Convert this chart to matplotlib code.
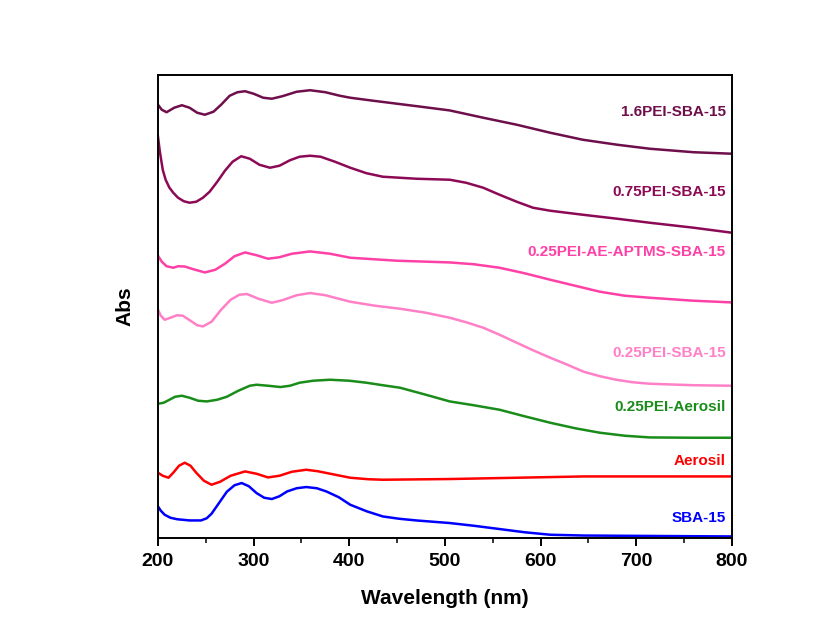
import matplotlib
matplotlib.use('Agg')
import matplotlib.pyplot as plt
from matplotlib.ticker import MultipleLocator

plt.rcParams['font.family'] = ['Liberation Sans', 'DejaVu Sans']
plt.rcParams['font.weight'] = 'bold'

# UV-vis spectra (offset, arbitrary units)
wl_16 = [200, 204, 209, 217, 225, 233, 241, 249, 258, 266, 275, 283, 291, 300, 310, 319, 330, 345,
         359, 375, 390, 401, 425, 450, 475, 505, 540, 575, 610, 644, 680, 714, 760, 800]
abs_16 = [4.33, 4.28, 4.255, 4.30, 4.325, 4.30, 4.25, 4.23, 4.26, 4.33, 4.42, 4.455, 4.465, 4.44,
          4.40, 4.39, 4.415, 4.46, 4.475, 4.455, 4.42, 4.40, 4.37, 4.34, 4.31, 4.273, 4.20, 4.13,
          4.05, 3.98, 3.93, 3.89, 3.855, 3.84]

wl_075 = [200, 202, 205, 208, 212, 216, 221, 227, 233, 240, 247, 254, 262, 270, 278, 287, 296, 306,
          317, 327, 338, 348, 359, 370, 385, 401, 418, 435, 470, 505, 522, 540, 557, 575, 592, 610,
          644, 680, 714, 760, 800]
abs_075 = [4.01, 3.86, 3.68, 3.58, 3.50, 3.45, 3.40, 3.365, 3.35, 3.36, 3.40, 3.46, 3.56, 3.67,
           3.76, 3.815, 3.79, 3.73, 3.70, 3.72, 3.775, 3.81, 3.82, 3.81, 3.76, 3.70, 3.645, 3.61,
           3.59, 3.58, 3.55, 3.50, 3.43, 3.36, 3.30, 3.27, 3.23, 3.19, 3.15, 3.10, 3.05]

wl_ae = [200, 204, 209, 216, 221, 228, 237, 249, 260, 270, 280, 291, 303, 315, 327, 340, 359, 380,
         401, 450, 505, 530, 557, 583, 610, 636, 662, 688, 714, 760, 800]
abs_ae = [2.82, 2.76, 2.715, 2.70, 2.715, 2.712, 2.685, 2.653, 2.68, 2.74, 2.815, 2.853, 2.825,
          2.79, 2.805, 2.84, 2.863, 2.84, 2.80, 2.77, 2.753, 2.735, 2.70, 2.645, 2.58, 2.52, 2.46,
          2.42, 2.40, 2.37, 2.353]

wl_025 = [200, 203, 207, 213, 220, 226, 234, 241, 247, 256, 266, 276, 285, 293, 305, 319, 330, 345,
          359, 375, 401, 427, 453, 480, 505, 522, 540, 557, 575, 592, 610, 628, 645, 662, 679, 696,
          714, 760, 800]
abs_025 = [2.28, 2.22, 2.18, 2.20, 2.225, 2.22, 2.17, 2.125, 2.113, 2.16, 2.28, 2.38, 2.43, 2.437,
           2.39, 2.35, 2.375, 2.425, 2.447, 2.425, 2.36, 2.32, 2.29, 2.25, 2.20, 2.155, 2.10, 2.03,
           1.95, 1.875, 1.80, 1.73, 1.66, 1.615, 1.58, 1.555, 1.54, 1.525, 1.52]

wl_aer_pei = [200, 206, 212, 218, 225, 233, 242, 251, 262, 272, 284, 296, 303, 315, 328, 338, 348,
              362, 380, 400, 418, 435, 453, 480, 505, 530, 557, 583, 610, 636, 662, 688, 714, 760,
              800]
abs_aer_pei = [1.34, 1.35, 1.38, 1.41, 1.42, 1.40, 1.37, 1.363, 1.38, 1.41, 1.47, 1.52, 1.53, 1.52,
               1.507, 1.52, 1.55, 1.57, 1.58, 1.57, 1.55, 1.525, 1.50, 1.43, 1.363, 1.325, 1.28,
               1.215, 1.15, 1.095, 1.05, 1.02, 1.003, 1.00, 1.00]

wl_aer = [200, 205, 211, 216, 222, 228, 234, 240, 248, 256, 265, 276, 291, 303, 315, 327, 340, 355,
          367, 380, 401, 420, 435, 505, 575, 645, 800]
abs_aer = [0.65, 0.62, 0.60, 0.65, 0.72, 0.75, 0.72, 0.65, 0.57, 0.53, 0.56, 0.62, 0.663, 0.64,
           0.603, 0.62, 0.66, 0.68, 0.665, 0.64, 0.60, 0.585, 0.58, 0.587, 0.60, 0.613, 0.613]

wl_sba = [200, 203, 207, 213, 220, 233, 245, 251, 256, 264, 272, 280, 287.5, 295, 303, 311, 319,
          327, 335, 345, 355, 366, 376, 389, 401, 418, 435, 452, 470, 505, 530, 557, 583, 610, 645,
          679, 800]
abs_sba = [0.313, 0.27, 0.23, 0.20, 0.185, 0.173, 0.173, 0.195, 0.24, 0.35, 0.46, 0.525, 0.547,
           0.515, 0.447, 0.40, 0.387, 0.415, 0.463, 0.495, 0.507, 0.495, 0.463, 0.405, 0.33, 0.265,
           0.213, 0.19, 0.173, 0.147, 0.12, 0.087, 0.055, 0.03, 0.022, 0.02, 0.013]

series = [
    (wl_16, abs_16, '#6E0F4B', '1.6PEI-SBA-15', 4.26),
    (wl_075, abs_075, '#8C0A55', '0.75PEI-SBA-15', 3.46),
    (wl_ae, abs_ae, '#FF40A6', '0.25PEI-AE-APTMS-SBA-15', 2.86),
    (wl_025, abs_025, '#FF80C6', '0.25PEI-SBA-15', 1.85),
    (wl_aer_pei, abs_aer_pei, '#1A8C1A', '0.25PEI-Aerosil', 1.31),
    (wl_aer, abs_aer, '#FF0000', 'Aerosil', 0.77),
    (wl_sba, abs_sba, '#0000FF', 'SBA-15', 0.20),
]

fig = plt.figure(figsize=(8.38, 6.36), dpi=100)
ax = fig.add_axes([0.1885, 0.1545, 0.685, 0.728])

for x, y, c, name, ly in series:
    ax.plot(x, y, color=c, linewidth=1.8, solid_joinstyle='round')
    ax.text(793.5, ly, name, color=c, fontsize=11, fontweight='bold',
            ha='right', va='center')

ax.set_xlim(200, 800)
ax.set_ylim(0, 4.63)
ax.xaxis.set_major_locator(MultipleLocator(100))
ax.xaxis.set_minor_locator(MultipleLocator(50))
ax.set_yticks([])
ax.tick_params(axis='x', which='major', direction='out', length=6, width=1.4,
               labelsize=14, pad=5)
ax.tick_params(axis='x', which='minor', direction='out', length=3.5, width=1.1)
for lbl in ax.get_xticklabels():
    lbl.set_fontweight('bold')
for s in ax.spines.values():
    s.set_linewidth(1.4)

ax.set_xlabel('Wavelength (nm)', fontsize=15, fontweight='bold', labelpad=14)
ax.set_ylabel('Abs', fontsize=15, fontweight='bold', labelpad=17)

fig.savefig('out.png', dpi=100)
